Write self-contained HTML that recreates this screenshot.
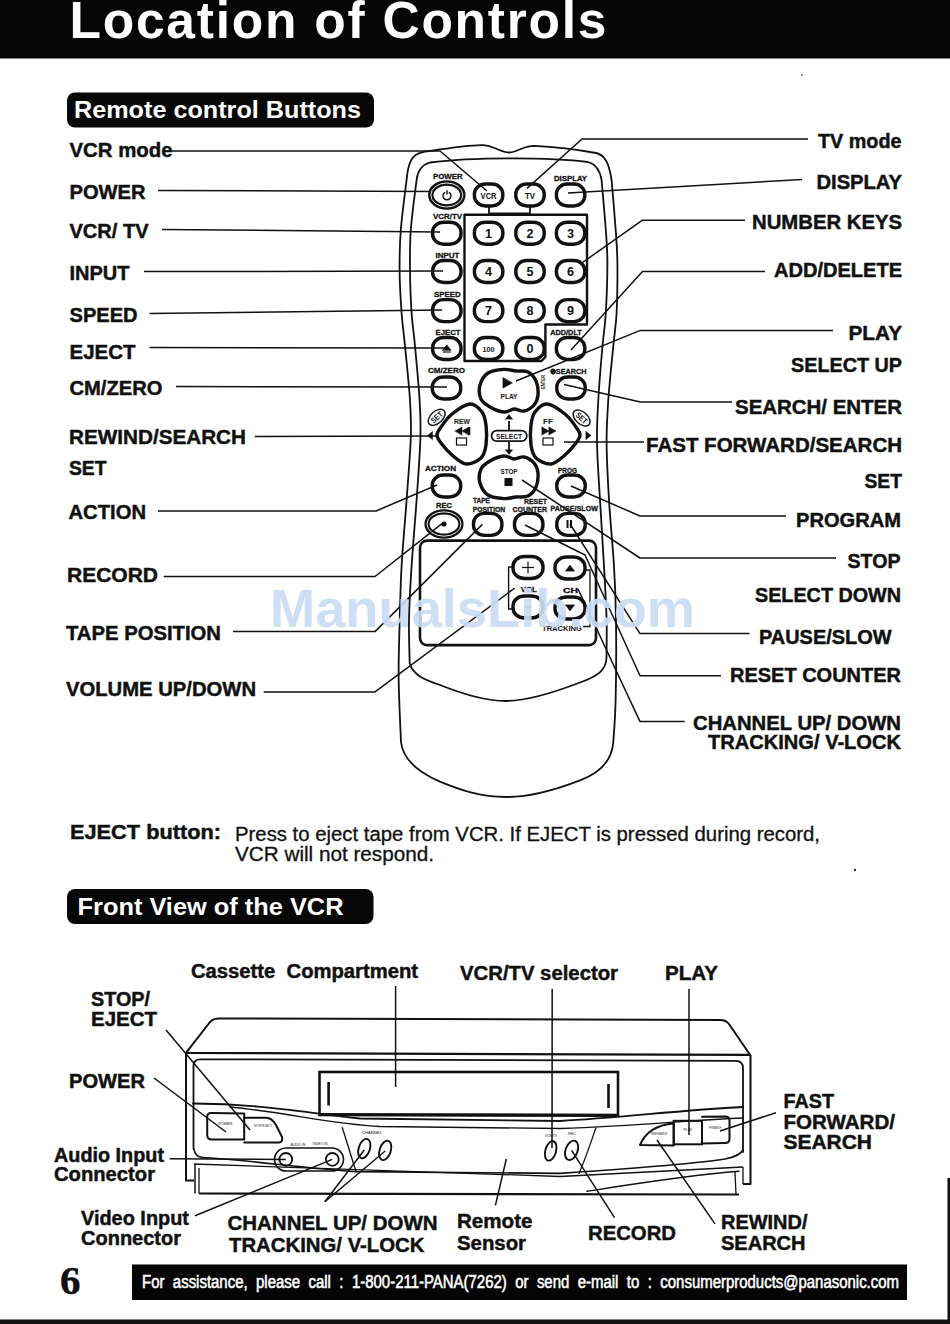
<!DOCTYPE html>
<html><head><meta charset="utf-8"><style>
html,body{margin:0;padding:0;background:#fff;}
svg{display:block;}
</style></head><body>
<svg width="950" height="1324" viewBox="0 0 950 1324">
<rect width="950" height="1324" fill="#fff"/>
<rect x="0" y="0" width="950" height="58.5" rx="0" fill="#050505" />
<text x="69.5" y="37.5" font-family="Liberation Sans" font-size="51.5" font-weight="bold" fill="#fff" textLength="537" lengthAdjust="spacing">Location of Controls</text>
<rect x="67" y="92.5" width="307" height="35" rx="8" fill="#080808" />
<text x="74" y="118" font-family="Liberation Sans" font-size="24" font-weight="bold" fill="#fff" text-anchor="start" textLength="287" lengthAdjust="spacingAndGlyphs" >Remote control Buttons</text>
<text x="69.5" y="157" font-family="Liberation Sans" font-size="20" font-weight="bold" fill="#111" text-anchor="start" textLength="103" lengthAdjust="spacingAndGlyphs"  stroke="#111" stroke-width="0.45">VCR mode</text>
<text x="69.5" y="199" font-family="Liberation Sans" font-size="20" font-weight="bold" fill="#111" text-anchor="start" textLength="76" lengthAdjust="spacingAndGlyphs"  stroke="#111" stroke-width="0.45">POWER</text>
<text x="69.5" y="238" font-family="Liberation Sans" font-size="20" font-weight="bold" fill="#111" text-anchor="start" textLength="79" lengthAdjust="spacingAndGlyphs"  stroke="#111" stroke-width="0.45">VCR/ TV</text>
<text x="69.5" y="280" font-family="Liberation Sans" font-size="20" font-weight="bold" fill="#111" text-anchor="start" textLength="60" lengthAdjust="spacingAndGlyphs"  stroke="#111" stroke-width="0.45">INPUT</text>
<text x="69.5" y="321.5" font-family="Liberation Sans" font-size="20" font-weight="bold" fill="#111" text-anchor="start" textLength="68" lengthAdjust="spacingAndGlyphs"  stroke="#111" stroke-width="0.45">SPEED</text>
<text x="69.5" y="358.5" font-family="Liberation Sans" font-size="20" font-weight="bold" fill="#111" text-anchor="start" textLength="66" lengthAdjust="spacingAndGlyphs"  stroke="#111" stroke-width="0.45">EJECT</text>
<text x="69.5" y="395" font-family="Liberation Sans" font-size="20" font-weight="bold" fill="#111" text-anchor="start" textLength="93" lengthAdjust="spacingAndGlyphs"  stroke="#111" stroke-width="0.45">CM/ZERO</text>
<text x="69" y="444" font-family="Liberation Sans" font-size="20" font-weight="bold" fill="#111" text-anchor="start" textLength="177" lengthAdjust="spacingAndGlyphs"  stroke="#111" stroke-width="0.45">REWIND/SEARCH</text>
<text x="69" y="474.5" font-family="Liberation Sans" font-size="20" font-weight="bold" fill="#111" text-anchor="start" textLength="37.5" lengthAdjust="spacingAndGlyphs"  stroke="#111" stroke-width="0.45">SET</text>
<text x="68.5" y="518.5" font-family="Liberation Sans" font-size="20" font-weight="bold" fill="#111" text-anchor="start" textLength="77.5" lengthAdjust="spacingAndGlyphs"  stroke="#111" stroke-width="0.45">ACTION</text>
<text x="67" y="581.5" font-family="Liberation Sans" font-size="20" font-weight="bold" fill="#111" text-anchor="start" textLength="91" lengthAdjust="spacingAndGlyphs"  stroke="#111" stroke-width="0.45">RECORD</text>
<text x="66" y="639.5" font-family="Liberation Sans" font-size="20" font-weight="bold" fill="#111" text-anchor="start" textLength="155" lengthAdjust="spacingAndGlyphs"  stroke="#111" stroke-width="0.45">TAPE POSITION</text>
<text x="66" y="695.5" font-family="Liberation Sans" font-size="20" font-weight="bold" fill="#111" text-anchor="start" textLength="190" lengthAdjust="spacingAndGlyphs"  stroke="#111" stroke-width="0.45">VOLUME UP/DOWN</text>
<text x="901.5" y="148" font-family="Liberation Sans" font-size="20" font-weight="bold" fill="#111" text-anchor="end" textLength="83.5" lengthAdjust="spacingAndGlyphs"  stroke="#111" stroke-width="0.45">TV mode</text>
<text x="902" y="188.5" font-family="Liberation Sans" font-size="20" font-weight="bold" fill="#111" text-anchor="end" textLength="85.5" lengthAdjust="spacingAndGlyphs"  stroke="#111" stroke-width="0.45">DISPLAY</text>
<text x="902" y="228.5" font-family="Liberation Sans" font-size="20" font-weight="bold" fill="#111" text-anchor="end" textLength="150" lengthAdjust="spacingAndGlyphs"  stroke="#111" stroke-width="0.45">NUMBER KEYS</text>
<text x="902" y="276.5" font-family="Liberation Sans" font-size="20" font-weight="bold" fill="#111" text-anchor="end" textLength="128" lengthAdjust="spacingAndGlyphs"  stroke="#111" stroke-width="0.45">ADD/DELETE</text>
<text x="902" y="340.3" font-family="Liberation Sans" font-size="20" font-weight="bold" fill="#111" text-anchor="end" textLength="53.5" lengthAdjust="spacingAndGlyphs"  stroke="#111" stroke-width="0.45">PLAY</text>
<text x="902" y="371.5" font-family="Liberation Sans" font-size="20" font-weight="bold" fill="#111" text-anchor="end" textLength="111" lengthAdjust="spacingAndGlyphs"  stroke="#111" stroke-width="0.45">SELECT UP</text>
<text x="902" y="413.5" font-family="Liberation Sans" font-size="20" font-weight="bold" fill="#111" text-anchor="end" textLength="167" lengthAdjust="spacingAndGlyphs"  stroke="#111" stroke-width="0.45">SEARCH/ ENTER</text>
<text x="902" y="452" font-family="Liberation Sans" font-size="20" font-weight="bold" fill="#111" text-anchor="end" textLength="256" lengthAdjust="spacingAndGlyphs"  stroke="#111" stroke-width="0.45">FAST FORWARD/SEARCH</text>
<text x="902" y="487.5" font-family="Liberation Sans" font-size="20" font-weight="bold" fill="#111" text-anchor="end" textLength="37.5" lengthAdjust="spacingAndGlyphs"  stroke="#111" stroke-width="0.45">SET</text>
<text x="901" y="527" font-family="Liberation Sans" font-size="20" font-weight="bold" fill="#111" text-anchor="end" textLength="105" lengthAdjust="spacingAndGlyphs"  stroke="#111" stroke-width="0.45">PROGRAM</text>
<text x="900.5" y="568" font-family="Liberation Sans" font-size="20" font-weight="bold" fill="#111" text-anchor="end" textLength="53" lengthAdjust="spacingAndGlyphs"  stroke="#111" stroke-width="0.45">STOP</text>
<text x="901" y="601.5" font-family="Liberation Sans" font-size="20" font-weight="bold" fill="#111" text-anchor="end" textLength="146" lengthAdjust="spacingAndGlyphs"  stroke="#111" stroke-width="0.45">SELECT DOWN</text>
<text x="891.5" y="643.5" font-family="Liberation Sans" font-size="20" font-weight="bold" fill="#111" text-anchor="end" textLength="132.5" lengthAdjust="spacingAndGlyphs"  stroke="#111" stroke-width="0.45">PAUSE/SLOW</text>
<text x="901" y="682" font-family="Liberation Sans" font-size="20" font-weight="bold" fill="#111" text-anchor="end" textLength="171" lengthAdjust="spacingAndGlyphs"  stroke="#111" stroke-width="0.45">RESET COUNTER</text>
<text x="901" y="729.5" font-family="Liberation Sans" font-size="20" font-weight="bold" fill="#111" text-anchor="end" textLength="208" lengthAdjust="spacingAndGlyphs"  stroke="#111" stroke-width="0.45">CHANNEL UP/ DOWN</text>
<text x="901" y="748.5" font-family="Liberation Sans" font-size="20" font-weight="bold" fill="#111" text-anchor="end" textLength="193" lengthAdjust="spacingAndGlyphs"  stroke="#111" stroke-width="0.45">TRACKING/ V-LOCK</text>
<polyline points="172,151 440,151 487,191" fill="none" stroke="#111" stroke-width="1.5" stroke-linejoin="round" />
<polyline points="158,190.5 432,191.5" fill="none" stroke="#111" stroke-width="1.5" stroke-linejoin="round" />
<polyline points="162,229.5 440,232" fill="none" stroke="#111" stroke-width="1.5" stroke-linejoin="round" />
<polyline points="144,271.6 443,271" fill="none" stroke="#111" stroke-width="1.5" stroke-linejoin="round" />
<polyline points="149.5,313.4 442,310" fill="none" stroke="#111" stroke-width="1.5" stroke-linejoin="round" />
<polyline points="149.5,347.6 446,348" fill="none" stroke="#111" stroke-width="1.5" stroke-linejoin="round" />
<polyline points="176,386.6 447,387" fill="none" stroke="#111" stroke-width="1.5" stroke-linejoin="round" />
<polyline points="254.7,436.6 437,436" fill="none" stroke="#111" stroke-width="1.5" stroke-linejoin="round" />
<polyline points="158,511 376,511 437,485" fill="none" stroke="#111" stroke-width="1.5" stroke-linejoin="round" />
<polyline points="163.7,576.5 375,576.5 442,523.7" fill="none" stroke="#111" stroke-width="1.5" stroke-linejoin="round" />
<polyline points="233,631.6 375,631.6 482.4,524.4" fill="none" stroke="#111" stroke-width="1.5" stroke-linejoin="round" />
<polyline points="263.7,691.9 375,691.9 514.8,588" fill="none" stroke="#111" stroke-width="1.5" stroke-linejoin="round" />
<polyline points="808,139 582,139 527,188.4" fill="none" stroke="#111" stroke-width="1.5" stroke-linejoin="round" />
<polyline points="802,179.5 568,193" fill="none" stroke="#111" stroke-width="1.5" stroke-linejoin="round" />
<polyline points="745,220.2 642.5,220.2 582.5,262.5" fill="none" stroke="#111" stroke-width="1.5" stroke-linejoin="round" />
<polyline points="765,271.6 642.5,271.6 571,350" fill="none" stroke="#111" stroke-width="1.5" stroke-linejoin="round" />
<polyline points="833,330.4 640.4,330.4 516,381" fill="none" stroke="#111" stroke-width="1.5" stroke-linejoin="round" />
<polyline points="732,402 640.4,402 564,384.6" fill="none" stroke="#111" stroke-width="1.5" stroke-linejoin="round" />
<polyline points="644,442 564,442" fill="none" stroke="#111" stroke-width="1.5" stroke-linejoin="round" />
<polyline points="786,516 640,516 571,486" fill="none" stroke="#111" stroke-width="1.5" stroke-linejoin="round" />
<polyline points="836,558 640,558 522,480" fill="none" stroke="#111" stroke-width="1.5" stroke-linejoin="round" />
<polyline points="749.5,633.6 640,633.6 570,524" fill="none" stroke="#111" stroke-width="1.5" stroke-linejoin="round" />
<polyline points="721,675.7 640,675.7 585,555 525,525" fill="none" stroke="#111" stroke-width="1.5" stroke-linejoin="round" />
<polyline points="684.7,721.6 640,721.6 578,589" fill="none" stroke="#111" stroke-width="1.5" stroke-linejoin="round" />
<text x="70" y="838.5" font-family="Liberation Sans" font-size="20" font-weight="bold" fill="#111" text-anchor="start" textLength="151" lengthAdjust="spacingAndGlyphs"  stroke="#111" stroke-width="0.45">EJECT button:</text>
<text x="235" y="840.5" font-family="Liberation Sans" font-size="20" font-weight="normal" fill="#111" text-anchor="start" textLength="585" lengthAdjust="spacingAndGlyphs" stroke="#111" stroke-width="0.3">Press to eject tape from VCR. If EJECT is pressed during record,</text>
<text x="235" y="860.5" font-family="Liberation Sans" font-size="20" font-weight="normal" fill="#111" text-anchor="start" textLength="199" lengthAdjust="spacingAndGlyphs" stroke="#111" stroke-width="0.3">VCR will not respond.</text>
<rect x="67" y="889" width="306.5" height="35" rx="8" fill="#080808" />
<text x="77.5" y="914.5" font-family="Liberation Sans" font-size="23" font-weight="bold" fill="#fff" text-anchor="start" textLength="266" lengthAdjust="spacingAndGlyphs" >Front View of the VCR</text>
<text x="191" y="978" font-family="Liberation Sans" font-size="19.5" font-weight="bold" fill="#111" text-anchor="start" textLength="227" lengthAdjust="spacingAndGlyphs"  stroke="#111" stroke-width="0.45">Cassette&#160; Compartment</text>
<text x="91" y="1006" font-family="Liberation Sans" font-size="19.5" font-weight="bold" fill="#111" text-anchor="start" textLength="59" lengthAdjust="spacingAndGlyphs"  stroke="#111" stroke-width="0.45">STOP/</text>
<text x="91" y="1026" font-family="Liberation Sans" font-size="19.5" font-weight="bold" fill="#111" text-anchor="start" textLength="66" lengthAdjust="spacingAndGlyphs"  stroke="#111" stroke-width="0.45">EJECT</text>
<text x="69" y="1088" font-family="Liberation Sans" font-size="19.5" font-weight="bold" fill="#111" text-anchor="start" textLength="76" lengthAdjust="spacingAndGlyphs"  stroke="#111" stroke-width="0.45">POWER</text>
<text x="54" y="1161.5" font-family="Liberation Sans" font-size="19.5" font-weight="bold" fill="#111" text-anchor="start" textLength="110" lengthAdjust="spacingAndGlyphs"  stroke="#111" stroke-width="0.45">Audio Input</text>
<text x="54" y="1181" font-family="Liberation Sans" font-size="19.5" font-weight="bold" fill="#111" text-anchor="start" textLength="101" lengthAdjust="spacingAndGlyphs"  stroke="#111" stroke-width="0.45">Connector</text>
<text x="81" y="1225" font-family="Liberation Sans" font-size="19.5" font-weight="bold" fill="#111" text-anchor="start" textLength="108" lengthAdjust="spacingAndGlyphs"  stroke="#111" stroke-width="0.45">Video Input</text>
<text x="81" y="1245" font-family="Liberation Sans" font-size="19.5" font-weight="bold" fill="#111" text-anchor="start" textLength="100" lengthAdjust="spacingAndGlyphs"  stroke="#111" stroke-width="0.45">Connector</text>
<text x="227.5" y="1229.5" font-family="Liberation Sans" font-size="20" font-weight="bold" fill="#111" text-anchor="start" textLength="210" lengthAdjust="spacingAndGlyphs"  stroke="#111" stroke-width="0.45">CHANNEL UP/ DOWN</text>
<text x="229" y="1251.5" font-family="Liberation Sans" font-size="20" font-weight="bold" fill="#111" text-anchor="start" textLength="195.5" lengthAdjust="spacingAndGlyphs"  stroke="#111" stroke-width="0.45">TRACKING/ V-LOCK</text>
<text x="457" y="1228" font-family="Liberation Sans" font-size="19.5" font-weight="bold" fill="#111" text-anchor="start" textLength="75.5" lengthAdjust="spacingAndGlyphs"  stroke="#111" stroke-width="0.45">Remote</text>
<text x="457" y="1249.5" font-family="Liberation Sans" font-size="19.5" font-weight="bold" fill="#111" text-anchor="start" textLength="69" lengthAdjust="spacingAndGlyphs"  stroke="#111" stroke-width="0.45">Sensor</text>
<text x="588" y="1239.5" font-family="Liberation Sans" font-size="20" font-weight="bold" fill="#111" text-anchor="start" textLength="88" lengthAdjust="spacingAndGlyphs"  stroke="#111" stroke-width="0.45">RECORD</text>
<text x="721" y="1229" font-family="Liberation Sans" font-size="19.5" font-weight="bold" fill="#111" text-anchor="start" textLength="86.5" lengthAdjust="spacingAndGlyphs"  stroke="#111" stroke-width="0.45">REWIND/</text>
<text x="721" y="1249.5" font-family="Liberation Sans" font-size="19.5" font-weight="bold" fill="#111" text-anchor="start" textLength="84.5" lengthAdjust="spacingAndGlyphs"  stroke="#111" stroke-width="0.45">SEARCH</text>
<text x="460" y="980.3" font-family="Liberation Sans" font-size="19.5" font-weight="bold" fill="#111" text-anchor="start" textLength="158" lengthAdjust="spacingAndGlyphs"  stroke="#111" stroke-width="0.45">VCR/TV selector</text>
<text x="665" y="980.3" font-family="Liberation Sans" font-size="19.5" font-weight="bold" fill="#111" text-anchor="start" textLength="53" lengthAdjust="spacingAndGlyphs"  stroke="#111" stroke-width="0.45">PLAY</text>
<text x="783.5" y="1108" font-family="Liberation Sans" font-size="19.5" font-weight="bold" fill="#111" text-anchor="start" textLength="50.5" lengthAdjust="spacingAndGlyphs"  stroke="#111" stroke-width="0.45">FAST</text>
<text x="783.5" y="1128.5" font-family="Liberation Sans" font-size="19.5" font-weight="bold" fill="#111" text-anchor="start" textLength="111.5" lengthAdjust="spacingAndGlyphs"  stroke="#111" stroke-width="0.45">FORWARD/</text>
<text x="783.5" y="1148.5" font-family="Liberation Sans" font-size="19.5" font-weight="bold" fill="#111" text-anchor="start" textLength="88.5" lengthAdjust="spacingAndGlyphs"  stroke="#111" stroke-width="0.45">SEARCH</text>
<text x="60" y="1293.5" font-family="Liberation Serif" font-size="41" font-weight="bold" fill="#111" text-anchor="start" textLength="20.5" lengthAdjust="spacingAndGlyphs"  stroke="#111" stroke-width="0.45">6</text>
<rect x="132" y="1264.5" width="775" height="35.5" rx="0" fill="#050505" />
<text x="142" y="1287.5" font-family="Liberation Sans" font-size="17.5" font-weight="normal" fill="#fff" text-anchor="start" textLength="757" lengthAdjust="spacingAndGlyphs" word-spacing="5" stroke="#fff" stroke-width="0.55">For assistance, please call : 1-800-211-PANA(7262) or send e-mail to : consumerproducts@panasonic.com</text>
<rect x="0" y="1319.5" width="950" height="4.5" rx="0" fill="#111" />
<rect x="947.5" y="1178" width="2.5" height="146" rx="0" fill="#111" />
<circle cx="855" cy="870" r="1.2" fill="#333"/>
<circle cx="802" cy="75" r="0.9" fill="#555"/>
<path d="M406.6,180 C408,163 412,154 422,152.3 C450,148 468,145 482,145.2 C494,145.5 500,152.3 509,152.5 C518,152.3 522,146 534,145.8 C560,147 580,150 596,153 C605,155 609,163 611.6,180 C612.3,188.3 614.7,216.2 615.7,230.0 C616.7,243.8 617.2,249.2 617.4,263.0 C617.5,276.8 617.3,299.2 616.6,313.0 C615.9,326.8 614.7,331.5 613.3,346.0 C611.9,360.5 609.4,383.8 608.3,400.0 C607.2,416.2 606.5,426.3 606.6,443.0 C606.7,459.7 607.8,479.5 609.0,500.0 C610.2,520.5 612.8,546.0 614.0,566.0 C615.2,586.0 615.7,597.5 616.0,620.0 C616.3,642.5 616.1,680.7 615.6,701.0 C615.1,721.3 613.7,735.2 613.3,742.0 C612,760 600,773 580,780.3 C555,790 530,797 506,797 C480,797 460,790 440,781.7 C420,773 403,760 401,742 C400.6,731.7 398.9,699.0 398.7,680.0 C398.4,661.0 399.0,647.0 399.5,628.0 C400.0,609.0 400.4,587.3 401.6,566.0 C402.8,544.7 405.1,521.3 406.6,500.0 C408.1,478.7 410.2,454.7 410.8,438.0 C411.4,421.3 411.0,415.3 410.0,400.0 C409.0,384.7 406.4,360.5 405.0,346.0 C403.6,331.5 402.5,325.5 401.6,313.0 C400.7,300.5 399.7,284.8 399.6,271.0 C399.5,257.2 399.6,245.2 400.8,230.0 C402.0,214.8 405.6,188.3 406.6,180.0 Z" fill="none" stroke="#111" stroke-width="1.8" stroke-linejoin="round" stroke-linecap="round" />
<path d="M409.7,663.5 C409.6,656.2 408.7,636.2 409.0,620.0 C409.3,603.8 410.3,586.0 411.6,566.0 C412.9,546.0 415.1,521.3 416.6,500.0 C418.1,478.7 419.9,454.7 420.4,438.0 C420.9,421.3 420.5,415.3 419.6,400.0 C418.7,384.7 416.3,360.5 415.0,346.0 C413.7,331.5 412.4,325.5 411.6,313.0 C410.8,300.5 410.1,284.8 410.0,271.0 C409.9,257.2 409.7,245.2 410.8,230.0 C411.9,214.8 415.6,188.3 416.6,180.0 Q418,166 430,162.5 C470,157 550,157 588,162 Q599,165 601.6,180 C602.3,188.3 604.8,216.2 605.8,230.0 C606.8,243.8 607.4,249.2 607.4,263.0 C607.4,276.8 606.6,299.2 605.8,313.0 C605.0,326.8 603.8,331.5 602.5,346.0 C601.2,360.5 599.2,383.8 598.3,400.0 C597.4,416.2 596.7,426.3 597.0,443.0 C597.3,459.7 598.8,479.5 600.0,500.0 C601.2,520.5 602.9,546.0 604.0,566.0 C605.1,586.0 606.2,604.7 606.6,620.0 C607.0,635.3 606.5,651.7 606.5,658.0 C606,670 598,676 580,682.5 C550,694 525,701 506,701 C490,701 470,697 440,685 C425,680 413,675 409.7,663.5" fill="none" stroke="#111" stroke-width="1.8" stroke-linejoin="round" stroke-linecap="round" />
<path d="M464.5,214.7 L587,214.7 L587,324.5 L545.4,324.5 L545.4,357 L541.5,361 L464.5,361 Z" fill="none" stroke="#111" stroke-width="2.4" stroke-linejoin="round" stroke-linecap="round" />
<polyline points="489,207 489,214.7" fill="none" stroke="#111" stroke-width="1.8" stroke-linejoin="round" />
<polyline points="530,207 530,214.7" fill="none" stroke="#111" stroke-width="1.8" stroke-linejoin="round" />
<rect x="489" y="212.5" width="41" height="3" rx="0" fill="#111" />
<ellipse cx="446.8" cy="195" rx="16" ry="12" fill="none" stroke="#111" stroke-width="5.5" />
<ellipse cx="446.8" cy="195" rx="16" ry="12" fill="none" stroke="#fff" stroke-width="0.9" />
<rect x="474.4" y="184.0" width="28.4" height="22.0" rx="11.1" ry="9.9" fill="none" stroke="#111" stroke-width="3.4"/>
<rect x="515.8" y="184.0" width="28.4" height="22.0" rx="11.1" ry="9.9" fill="none" stroke="#111" stroke-width="3.4"/>
<rect x="556.4" y="184.0" width="28.4" height="22.0" rx="11.1" ry="9.9" fill="none" stroke="#111" stroke-width="3.4"/>
<rect x="432.6" y="222.2" width="28.4" height="22.0" rx="11.1" ry="9.9" fill="none" stroke="#111" stroke-width="3.4"/>
<rect x="432.6" y="260.5" width="28.4" height="22.0" rx="11.1" ry="9.9" fill="none" stroke="#111" stroke-width="3.4"/>
<rect x="432.6" y="299.6" width="28.4" height="22.0" rx="11.1" ry="9.9" fill="none" stroke="#111" stroke-width="3.4"/>
<rect x="432.6" y="337.5" width="28.4" height="22.0" rx="11.1" ry="9.9" fill="none" stroke="#111" stroke-width="3.4"/>
<rect x="474.4" y="222.2" width="28.4" height="22.0" rx="11.1" ry="9.9" fill="none" stroke="#111" stroke-width="3.4"/>
<rect x="515.8" y="222.2" width="28.4" height="22.0" rx="11.1" ry="9.9" fill="none" stroke="#111" stroke-width="3.4"/>
<rect x="556.4" y="222.2" width="28.4" height="22.0" rx="11.1" ry="9.9" fill="none" stroke="#111" stroke-width="3.4"/>
<rect x="474.4" y="260.5" width="28.4" height="22.0" rx="11.1" ry="9.9" fill="none" stroke="#111" stroke-width="3.4"/>
<rect x="515.8" y="260.5" width="28.4" height="22.0" rx="11.1" ry="9.9" fill="none" stroke="#111" stroke-width="3.4"/>
<rect x="556.4" y="260.5" width="28.4" height="22.0" rx="11.1" ry="9.9" fill="none" stroke="#111" stroke-width="3.4"/>
<rect x="474.4" y="299.6" width="28.4" height="22.0" rx="11.1" ry="9.9" fill="none" stroke="#111" stroke-width="3.4"/>
<rect x="515.8" y="299.6" width="28.4" height="22.0" rx="11.1" ry="9.9" fill="none" stroke="#111" stroke-width="3.4"/>
<rect x="556.4" y="299.6" width="28.4" height="22.0" rx="11.1" ry="9.9" fill="none" stroke="#111" stroke-width="3.4"/>
<rect x="474.4" y="337.5" width="28.4" height="22.0" rx="11.1" ry="9.9" fill="none" stroke="#111" stroke-width="3.4"/>
<rect x="515.8" y="337.5" width="28.4" height="22.0" rx="11.1" ry="9.9" fill="none" stroke="#111" stroke-width="3.4"/>
<rect x="556.4" y="337.5" width="28.4" height="22.0" rx="11.1" ry="9.9" fill="none" stroke="#111" stroke-width="3.4"/>
<text x="447.8" y="178.5" font-family="Liberation Sans" font-size="8" font-weight="bold" fill="#111" text-anchor="middle" textLength="29.6" lengthAdjust="spacingAndGlyphs" stroke="#111" stroke-width="0.3">POWER</text>
<text x="570.5" y="180.5" font-family="Liberation Sans" font-size="8" font-weight="bold" fill="#111" text-anchor="middle" textLength="33" lengthAdjust="spacingAndGlyphs" stroke="#111" stroke-width="0.3">DISPLAY</text>
<text x="447.5" y="218.5" font-family="Liberation Sans" font-size="8" font-weight="bold" fill="#111" text-anchor="middle" textLength="29" lengthAdjust="spacingAndGlyphs" stroke="#111" stroke-width="0.3">VCR/TV</text>
<text x="447.5" y="257.5" font-family="Liberation Sans" font-size="8" font-weight="bold" fill="#111" text-anchor="middle" textLength="24" lengthAdjust="spacingAndGlyphs" stroke="#111" stroke-width="0.3">INPUT</text>
<text x="447.3" y="296.5" font-family="Liberation Sans" font-size="8" font-weight="bold" fill="#111" text-anchor="middle" textLength="26.5" lengthAdjust="spacingAndGlyphs" stroke="#111" stroke-width="0.3">SPEED</text>
<text x="448" y="334.5" font-family="Liberation Sans" font-size="8" font-weight="bold" fill="#111" text-anchor="middle" textLength="25" lengthAdjust="spacingAndGlyphs" stroke="#111" stroke-width="0.3">EJECT</text>
<text x="566" y="334.5" font-family="Liberation Sans" font-size="8" font-weight="bold" fill="#111" text-anchor="middle" textLength="31.6" lengthAdjust="spacingAndGlyphs" stroke="#111" stroke-width="0.3">ADD/DLT</text>
<path d="M444.6,192.6 A4,4 0 1 0 449.4,192.6" fill="none" stroke="#111" stroke-width="1.4" stroke-linejoin="round" stroke-linecap="round" />
<polyline points="447,190.2 447,194.5" fill="none" stroke="#111" stroke-width="1.4" stroke-linejoin="round" />
<text x="488.6" y="198.5" font-family="Liberation Sans" font-size="9" font-weight="bold" fill="#111" text-anchor="middle" textLength="16" lengthAdjust="spacingAndGlyphs" >VCR</text>
<text x="530" y="198.5" font-family="Liberation Sans" font-size="9" font-weight="bold" fill="#111" text-anchor="middle" textLength="10" lengthAdjust="spacingAndGlyphs" >TV</text>
<text x="488.6" y="238.0" font-family="Liberation Sans" font-size="13" font-weight="bold" fill="#111" text-anchor="middle" textLength="7" lengthAdjust="spacingAndGlyphs" >1</text>
<text x="530" y="238.0" font-family="Liberation Sans" font-size="13" font-weight="bold" fill="#111" text-anchor="middle" textLength="7" lengthAdjust="spacingAndGlyphs" >2</text>
<text x="570.6" y="238.0" font-family="Liberation Sans" font-size="13" font-weight="bold" fill="#111" text-anchor="middle" textLength="7" lengthAdjust="spacingAndGlyphs" >3</text>
<text x="488.6" y="276.3" font-family="Liberation Sans" font-size="13" font-weight="bold" fill="#111" text-anchor="middle" textLength="7" lengthAdjust="spacingAndGlyphs" >4</text>
<text x="530" y="276.3" font-family="Liberation Sans" font-size="13" font-weight="bold" fill="#111" text-anchor="middle" textLength="7" lengthAdjust="spacingAndGlyphs" >5</text>
<text x="570.6" y="276.3" font-family="Liberation Sans" font-size="13" font-weight="bold" fill="#111" text-anchor="middle" textLength="7" lengthAdjust="spacingAndGlyphs" >6</text>
<text x="488.6" y="315.40000000000003" font-family="Liberation Sans" font-size="13" font-weight="bold" fill="#111" text-anchor="middle" textLength="7" lengthAdjust="spacingAndGlyphs" >7</text>
<text x="530" y="315.40000000000003" font-family="Liberation Sans" font-size="13" font-weight="bold" fill="#111" text-anchor="middle" textLength="7" lengthAdjust="spacingAndGlyphs" >8</text>
<text x="570.6" y="315.40000000000003" font-family="Liberation Sans" font-size="13" font-weight="bold" fill="#111" text-anchor="middle" textLength="7" lengthAdjust="spacingAndGlyphs" >9</text>
<text x="530" y="353.3" font-family="Liberation Sans" font-size="13" font-weight="bold" fill="#111" text-anchor="middle" textLength="7" lengthAdjust="spacingAndGlyphs" >0</text>
<text x="488.6" y="351.5" font-family="Liberation Sans" font-size="8" font-weight="bold" fill="#111" text-anchor="middle" textLength="12" lengthAdjust="spacingAndGlyphs" >100</text>
<path d="M442.8,350.0 L446.8,345.0 L450.8,350.0 Z" fill="#111" stroke="#111" stroke-width="0.8" stroke-linejoin="round" stroke-linecap="round" />
<polyline points="442.8,352.0 450.8,352.0" fill="none" stroke="#111" stroke-width="1.2" stroke-linejoin="round" />
<rect x="432.3" y="377.0" width="28.4" height="22.0" rx="11.1" ry="9.9" fill="none" stroke="#111" stroke-width="3.4"/>
<rect x="556.8" y="377.0" width="28.4" height="22.0" rx="11.1" ry="9.9" fill="none" stroke="#111" stroke-width="3.4"/>
<rect x="432.3" y="475.0" width="28.4" height="22.0" rx="11.1" ry="9.9" fill="none" stroke="#111" stroke-width="3.4"/>
<rect x="556.8" y="475.0" width="28.4" height="22.0" rx="11.1" ry="9.9" fill="none" stroke="#111" stroke-width="3.4"/>
<text x="446.5" y="373" font-family="Liberation Sans" font-size="8" font-weight="bold" fill="#111" text-anchor="middle" textLength="37" lengthAdjust="spacingAndGlyphs" stroke="#111" stroke-width="0.3">CM/ZERO</text>
<text x="568" y="374" font-family="Liberation Sans" font-size="8" font-weight="bold" fill="#111" text-anchor="middle" textLength="37" lengthAdjust="spacingAndGlyphs" stroke="#111" stroke-width="0.3">⊕SEARCH</text>
<text x="545" y="382" font-family="Liberation Sans" font-size="6" font-weight="bold" fill="#111" text-anchor="middle" textLength="14" lengthAdjust="spacingAndGlyphs" transform="rotate(-90 545 382)">ENTER</text>
<text x="440.5" y="471" font-family="Liberation Sans" font-size="8" font-weight="bold" fill="#111" text-anchor="middle" textLength="31" lengthAdjust="spacingAndGlyphs" stroke="#111" stroke-width="0.3">ACTION</text>
<text x="567.5" y="473" font-family="Liberation Sans" font-size="8" font-weight="bold" fill="#111" text-anchor="middle" textLength="19" lengthAdjust="spacingAndGlyphs" stroke="#111" stroke-width="0.3">PROG</text>
<path d="M480.0,385.0 C481.2,380.7 484.0,375.6 488.0,373.0 C492.0,370.4 499.3,369.7 504.0,369.4 C508.7,369.1 512.0,370.6 516.0,371.0 C520.0,371.4 524.7,370.3 528.0,372.0 C531.3,373.7 534.3,377.2 536.0,381.0 C537.7,384.8 538.3,391.0 538.0,395.0 C537.7,399.0 536.3,402.3 534.0,405.0 C531.7,407.7 527.3,410.3 524.0,411.0 C520.7,411.7 517.3,408.8 514.0,409.0 C510.7,409.2 508.0,412.3 504.0,412.0 C500.0,411.7 493.8,409.2 490.0,407.0 C486.2,404.8 482.7,402.7 481.0,399.0 C479.3,395.3 478.8,389.3 480.0,385.0 Z" fill="none" stroke="#111" stroke-width="3.4" stroke-linejoin="round" stroke-linecap="round" />
<path d="M480.0,483.0 C481.2,487.3 484.0,492.4 488.0,495.0 C492.0,497.6 499.3,498.3 504.0,498.6 C508.7,498.9 512.0,497.4 516.0,497.0 C520.0,496.6 524.7,497.7 528.0,496.0 C531.3,494.3 534.3,490.8 536.0,487.0 C537.7,483.2 538.3,477.0 538.0,473.0 C537.7,469.0 536.3,465.7 534.0,463.0 C531.7,460.3 527.3,457.7 524.0,457.0 C520.7,456.3 517.3,459.2 514.0,459.0 C510.7,458.8 508.0,455.7 504.0,456.0 C500.0,456.3 493.8,458.8 490.0,461.0 C486.2,463.2 482.7,465.3 481.0,469.0 C479.3,472.7 478.8,478.7 480.0,483.0 Z" fill="none" stroke="#111" stroke-width="3.4" stroke-linejoin="round" stroke-linecap="round" />
<path d="M470.0,404.0 C475.0,403.7 479.3,408.5 482.0,412.0 C484.7,415.5 485.3,419.5 486.0,425.0 C486.7,430.5 486.8,439.5 486.0,445.0 C485.2,450.5 484.3,454.8 481.0,458.0 C477.7,461.2 470.8,464.5 466.0,464.0 C461.2,463.5 456.2,458.5 452.0,455.0 C447.8,451.5 443.5,446.3 441.0,443.0 C438.5,439.7 437.0,437.7 437.0,435.0 C437.0,432.3 438.5,430.5 441.0,427.0 C443.5,423.5 447.2,417.8 452.0,414.0 C456.8,410.2 465.0,404.3 470.0,404.0 Z" fill="none" stroke="#111" stroke-width="3.4" stroke-linejoin="round" stroke-linecap="round" />
<path d="M547.0,404.0 C542.0,403.7 537.7,408.5 535.0,412.0 C532.3,415.5 531.7,419.5 531.0,425.0 C530.3,430.5 530.2,439.5 531.0,445.0 C531.8,450.5 532.7,454.8 536.0,458.0 C539.3,461.2 546.2,464.5 551.0,464.0 C555.8,463.5 560.8,458.5 565.0,455.0 C569.2,451.5 573.5,446.3 576.0,443.0 C578.5,439.7 580.0,437.7 580.0,435.0 C580.0,432.3 578.5,430.5 576.0,427.0 C573.5,423.5 569.8,417.8 565.0,414.0 C560.2,410.2 552.0,404.3 547.0,404.0 Z" fill="none" stroke="#111" stroke-width="3.4" stroke-linejoin="round" stroke-linecap="round" />
<path d="M503,378 L503,388 L512,383 Z" fill="#111" stroke="#111" stroke-width="0.8" stroke-linejoin="round" stroke-linecap="round" />
<text x="509" y="398.5" font-family="Liberation Sans" font-size="8" font-weight="bold" fill="#111" text-anchor="middle" textLength="17" lengthAdjust="spacingAndGlyphs" >PLAY</text>
<text x="509" y="474" font-family="Liberation Sans" font-size="8" font-weight="bold" fill="#111" text-anchor="middle" textLength="17" lengthAdjust="spacingAndGlyphs" >STOP</text>
<rect x="504.5" y="478" width="8" height="8" rx="0" fill="#111" />
<text x="462" y="423.5" font-family="Liberation Sans" font-size="8" font-weight="bold" fill="#111" text-anchor="middle" textLength="16" lengthAdjust="spacingAndGlyphs" >REW</text>
<path d="M455,431 L462,427 L462,435 Z M462,431 L469,427 L469,435 Z" fill="#111" stroke="#111" stroke-width="0.5" stroke-linejoin="round" stroke-linecap="round" />
<rect x="468.5" y="427" width="1.8" height="8" rx="0" fill="#111" />
<rect x="456.5" y="438" width="10" height="7" fill="none" stroke="#111" stroke-width="1.2"/>
<text x="548" y="423.5" font-family="Liberation Sans" font-size="8" font-weight="bold" fill="#111" text-anchor="middle" textLength="10" lengthAdjust="spacingAndGlyphs" >FF</text>
<path d="M542,427 L549,431 L542,435 Z M549,427 L556,431 L549,435 Z" fill="#111" stroke="#111" stroke-width="0.5" stroke-linejoin="round" stroke-linecap="round" />
<rect x="543" y="438" width="10" height="7" fill="none" stroke="#111" stroke-width="1.2"/>
<rect x="491.5" y="430.7" width="35.3" height="10.5" rx="5.2" fill="#fff" stroke="#111" stroke-width="1.8"/>
<text x="509" y="439" font-family="Liberation Sans" font-size="7.5" font-weight="bold" fill="#111" text-anchor="middle" textLength="26" lengthAdjust="spacingAndGlyphs" >SELECT</text>
<polyline points="509,421 509,430.5" fill="none" stroke="#111" stroke-width="1.8" stroke-linejoin="round" />
<polyline points="509,441 509,450" fill="none" stroke="#111" stroke-width="1.8" stroke-linejoin="round" />
<path d="M505.5,419 L509,414.5 L512.5,419 Z" fill="#111" stroke="#111" stroke-width="0.5" stroke-linejoin="round" stroke-linecap="round" />
<path d="M505.5,450 L509,454.5 L512.5,450 Z" fill="#111" stroke="#111" stroke-width="0.5" stroke-linejoin="round" stroke-linecap="round" />
<g transform="translate(436.7,417.3) rotate(-42)"><ellipse rx="10" ry="6" fill="#fff" stroke="#111" stroke-width="1.4"/><text x="0" y="2.8" font-family="Liberation Sans" font-size="8" font-weight="bold" text-anchor="middle" textLength="13" lengthAdjust="spacingAndGlyphs" fill="#111">SET</text></g>
<g transform="translate(581.6,418) rotate(42)"><ellipse rx="10" ry="6" fill="#fff" stroke="#111" stroke-width="1.4"/><text x="0" y="2.8" font-family="Liberation Sans" font-size="8" font-weight="bold" text-anchor="middle" textLength="13" lengthAdjust="spacingAndGlyphs" fill="#111">SET</text></g>
<path d="M427.5,435.5 L432.5,431.5 L432.5,439.5 Z" fill="#111" stroke="#111" stroke-width="0.5" stroke-linejoin="round" stroke-linecap="round" />
<path d="M586,431.5 L591,435.5 L586,439.5 Z" fill="#111" stroke="#111" stroke-width="0.5" stroke-linejoin="round" stroke-linecap="round" />
<ellipse cx="444" cy="524" rx="17" ry="12.2" fill="none" stroke="#111" stroke-width="5.2" />
<ellipse cx="444" cy="524" rx="17" ry="12.2" fill="none" stroke="#fff" stroke-width="0.9" />
<circle cx="444" cy="524" r="2.6" fill="#111"/>
<rect x="473.5" y="513.4" width="28.4" height="22.0" rx="11.1" ry="9.9" fill="none" stroke="#111" stroke-width="3.4"/>
<rect x="514.5" y="513.4" width="28.4" height="22.0" rx="11.1" ry="9.9" fill="none" stroke="#111" stroke-width="3.4"/>
<rect x="556.8" y="513.4" width="28.4" height="22.0" rx="11.1" ry="9.9" fill="none" stroke="#111" stroke-width="3.4"/>
<text x="444" y="508" font-family="Liberation Sans" font-size="8" font-weight="bold" fill="#111" text-anchor="middle" textLength="16" lengthAdjust="spacingAndGlyphs" stroke="#111" stroke-width="0.3">REC</text>
<text x="481.5" y="502.5" font-family="Liberation Sans" font-size="8" font-weight="bold" fill="#111" text-anchor="middle" textLength="17" lengthAdjust="spacingAndGlyphs" stroke="#111" stroke-width="0.3">TAPE</text>
<text x="489" y="511.5" font-family="Liberation Sans" font-size="8" font-weight="bold" fill="#111" text-anchor="middle" textLength="32.6" lengthAdjust="spacingAndGlyphs" stroke="#111" stroke-width="0.3">POSITION</text>
<text x="535.5" y="503.5" font-family="Liberation Sans" font-size="8" font-weight="bold" fill="#111" text-anchor="middle" textLength="23" lengthAdjust="spacingAndGlyphs" stroke="#111" stroke-width="0.3">RESET</text>
<text x="529.7" y="511.5" font-family="Liberation Sans" font-size="8" font-weight="bold" fill="#111" text-anchor="middle" textLength="34.5" lengthAdjust="spacingAndGlyphs" stroke="#111" stroke-width="0.3">COUNTER</text>
<text x="574.2" y="511" font-family="Liberation Sans" font-size="8" font-weight="bold" fill="#111" text-anchor="middle" textLength="47.5" lengthAdjust="spacingAndGlyphs" stroke="#111" stroke-width="0.3">PAUSE/SLOW</text>
<rect x="566.5" y="520" width="2" height="8" rx="0" fill="#111" />
<rect x="570" y="520" width="2" height="8" rx="0" fill="#111" />
<rect x="420" y="540.6" width="176" height="104.5" rx="7" fill="none" stroke="#111" stroke-width="2.6"/>
<rect x="513.0" y="556.5" width="30.0" height="22.0" rx="11.7" ry="9.9" fill="none" stroke="#111" stroke-width="3.4"/>
<rect x="555.0" y="557.0" width="30.0" height="22.0" rx="11.7" ry="9.9" fill="none" stroke="#111" stroke-width="3.4"/>
<rect x="513.0" y="596.0" width="30.0" height="22.0" rx="11.7" ry="9.9" fill="none" stroke="#111" stroke-width="3.4"/>
<rect x="555.0" y="597.0" width="30.0" height="22.0" rx="11.7" ry="9.9" fill="none" stroke="#111" stroke-width="3.4"/>
<polyline points="522,567.5 534,567.5" fill="none" stroke="#111" stroke-width="1.2" stroke-linejoin="round" />
<polyline points="528,561.5 528,573.5" fill="none" stroke="#111" stroke-width="1.2" stroke-linejoin="round" />
<path d="M565.5,571 L570,565 L574.5,571 Z" fill="#111" stroke="#111" stroke-width="0.5" stroke-linejoin="round" stroke-linecap="round" />
<path d="M565.5,605 L570,611 L574.5,605 Z" fill="#111" stroke="#111" stroke-width="0.5" stroke-linejoin="round" stroke-linecap="round" />
<polyline points="525,607 531,607" fill="none" stroke="#111" stroke-width="1.2" stroke-linejoin="round" />
<text x="528.7" y="591.6" font-family="Liberation Sans" font-size="8" font-weight="bold" fill="#111" text-anchor="middle" textLength="16" lengthAdjust="spacingAndGlyphs" stroke="#111" stroke-width="0.3">VOL</text>
<text x="570.5" y="593" font-family="Liberation Sans" font-size="8" font-weight="bold" fill="#111" text-anchor="middle" textLength="15" lengthAdjust="spacingAndGlyphs" stroke="#111" stroke-width="0.3">CH</text>
<text x="562" y="631" font-family="Liberation Sans" font-size="6.5" font-weight="bold" fill="#111" text-anchor="middle" textLength="40" lengthAdjust="spacingAndGlyphs" >TRACKING</text>
<polyline points="513,567 508.6,567 508.6,609 513,609" fill="none" stroke="#111" stroke-width="1.4" stroke-linejoin="round" />
<polyline points="585,570 590,570 590,626.5 583,626.5" fill="none" stroke="#111" stroke-width="1.3" stroke-linejoin="round" />
<path d="M186.4,1052.4 L210,1022 Q213,1018.5 219,1018.5 L720,1020 Q726,1020 729,1024 L750.5,1055.5" fill="none" stroke="#111" stroke-width="2.0" stroke-linejoin="round" stroke-linecap="round" />
<polyline points="186,1053 750.5,1054.8" fill="none" stroke="#111" stroke-width="2.2" stroke-linejoin="round" />
<polyline points="186,1053 186,1180.5 194,1180.5" fill="none" stroke="#111" stroke-width="2.0" stroke-linejoin="round" />
<polyline points="750.5,1055.5 750.5,1184 743,1184" fill="none" stroke="#111" stroke-width="2.0" stroke-linejoin="round" />
<path d="M193.5,1149 L193.5,1066 Q193.5,1059.3 200,1059.3 L736,1060.8 Q743,1061 743,1068 L743,1152" fill="none" stroke="#111" stroke-width="1.8" stroke-linejoin="round" stroke-linecap="round" />
<rect x="319.5" y="1072" width="298.5" height="43" fill="none" stroke="#111" stroke-width="2.6"/>
<polyline points="319.5,1114.5 618,1115.5" fill="none" stroke="#111" stroke-width="3.2" stroke-linejoin="round" />
<rect x="327.3" y="1082" width="2.6" height="23.5" rx="0" fill="#111" />
<rect x="607.2" y="1084" width="2.6" height="24" rx="0" fill="#111" />
<path d="M193,1103.5 C260,1104 300,1112 360,1118.5 L560,1121 C620,1118 680,1110 743,1107" fill="none" stroke="#111" stroke-width="1.8" stroke-linejoin="round" stroke-linecap="round" />
<path d="M230,1107 C290,1113 330,1124 380,1126.5 L560,1128.5 C640,1126 690,1120 743,1118" fill="none" stroke="#111" stroke-width="1.4" stroke-linejoin="round" stroke-linecap="round" />
<path d="M194,1149 Q195,1157 203,1157.5 C260,1161 300,1168 356,1171.7 L560,1173.4 C640,1168 700,1163 725,1159 Q740,1156 743,1150" fill="none" stroke="#111" stroke-width="1.7" stroke-linejoin="round" stroke-linecap="round" />
<polyline points="194,1164 560,1176.5 743,1167" fill="none" stroke="#111" stroke-width="1.3" stroke-linejoin="round" />
<path d="M587,1191.3 C640,1183 690,1175 739,1171.3" fill="none" stroke="#111" stroke-width="1.4" stroke-linejoin="round" stroke-linecap="round" />
<polyline points="199,1193.5 739,1194.5" fill="none" stroke="#111" stroke-width="2.2" stroke-linejoin="round" />
<polyline points="195,1164 195,1193.5" fill="none" stroke="#111" stroke-width="1.5" stroke-linejoin="round" />
<polyline points="199,1168 199,1193.5" fill="none" stroke="#111" stroke-width="1.3" stroke-linejoin="round" />
<polyline points="735,1172 736,1194.5" fill="none" stroke="#111" stroke-width="1.3" stroke-linejoin="round" />
<polyline points="743,1167 743,1184" fill="none" stroke="#111" stroke-width="1.3" stroke-linejoin="round" />
<path d="M342.3,1127.7 C348,1145 352,1160 356.2,1171.7" fill="none" stroke="#111" stroke-width="1.3" stroke-linejoin="round" stroke-linecap="round" />
<path d="M595.8,1128 C590,1145 585,1160 579,1173.4" fill="none" stroke="#111" stroke-width="1.3" stroke-linejoin="round" stroke-linecap="round" />
<path d="M207.2,1117 Q207.2,1113 211,1113 L244.2,1113.5 L244.2,1139.5 L212,1139.5 Q207.2,1139.5 207.2,1135 Z" fill="none" stroke="#111" stroke-width="2.0" stroke-linejoin="round" stroke-linecap="round" />
<path d="M244.2,1117.7 L266,1117.7 Q272,1118 276,1125 L282,1137 Q283,1142.4 279,1142.4 L244.2,1142.4" fill="none" stroke="#111" stroke-width="2.0" stroke-linejoin="round" stroke-linecap="round" />
<text x="225.5" y="1125" font-family="Liberation Sans" font-size="4" font-weight="normal" fill="#111" text-anchor="middle" textLength="14" lengthAdjust="spacingAndGlyphs" >POWER</text>
<text x="263" y="1127" font-family="Liberation Sans" font-size="4" font-weight="normal" fill="#111" text-anchor="middle" textLength="18" lengthAdjust="spacingAndGlyphs" >STOP/EJECT</text>
<rect x="274.5" y="1148" width="69" height="23" rx="11.5" fill="none" stroke="#111" stroke-width="1.6"/>
<circle cx="285.8" cy="1159.4" r="6.4" fill="none" stroke="#111" stroke-width="1.8"/>
<circle cx="332.3" cy="1159.4" r="6.4" fill="none" stroke="#111" stroke-width="1.8"/>
<text x="298" y="1146" font-family="Liberation Sans" font-size="3.5" font-weight="normal" fill="#111" text-anchor="middle" textLength="15" lengthAdjust="spacingAndGlyphs" >AUDIO IN</text>
<text x="320" y="1145" font-family="Liberation Sans" font-size="3.5" font-weight="normal" fill="#111" text-anchor="middle" textLength="15" lengthAdjust="spacingAndGlyphs" >VIDEO IN</text>
<ellipse cx="364.3" cy="1148.6" rx="5.6" ry="10" fill="none" stroke="#111" stroke-width="1.9" transform="rotate(18 364.3 1148.6)"/>
<ellipse cx="385.2" cy="1150.4" rx="5.6" ry="10" fill="none" stroke="#111" stroke-width="1.9" transform="rotate(18 385.2 1150.4)"/>
<text x="372" y="1134" font-family="Liberation Sans" font-size="3.5" font-weight="normal" fill="#111" text-anchor="middle" textLength="20" lengthAdjust="spacingAndGlyphs" >CHANNEL</text>
<ellipse cx="550.7" cy="1150.9" rx="5.4" ry="10" fill="none" stroke="#111" stroke-width="1.9" transform="rotate(15 550.7 1150.9)"/>
<ellipse cx="571.6" cy="1150.3" rx="6" ry="10" fill="none" stroke="#111" stroke-width="1.9" transform="rotate(20 571.6 1150.3)"/>
<text x="551" y="1137" font-family="Liberation Sans" font-size="3.5" font-weight="normal" fill="#111" text-anchor="middle" textLength="12" lengthAdjust="spacingAndGlyphs" >VCR/TV</text>
<text x="572" y="1135" font-family="Liberation Sans" font-size="3.5" font-weight="normal" fill="#111" text-anchor="middle" textLength="8" lengthAdjust="spacingAndGlyphs" >REC</text>
<path d="M640,1145 C645,1133 655,1125 673.7,1123.5 L673.7,1145.5 Z" fill="none" stroke="#111" stroke-width="2.0" stroke-linejoin="round" stroke-linecap="round" />
<rect x="673.7" y="1120.8" width="28.3" height="23.5" fill="none" stroke="#111" stroke-width="2.0"/>
<path d="M702,1116.8 L726,1116.6 Q729.5,1117 729.5,1121 L729.5,1139 Q729.5,1143 725,1143 L702,1143.5" fill="none" stroke="#111" stroke-width="2.0" stroke-linejoin="round" stroke-linecap="round" />
<text x="659" y="1135" font-family="Liberation Sans" font-size="3.5" font-weight="normal" fill="#111" text-anchor="middle" textLength="16" lengthAdjust="spacingAndGlyphs" >REW/SEARCH</text>
<text x="688" y="1131" font-family="Liberation Sans" font-size="3.5" font-weight="normal" fill="#111" text-anchor="middle" textLength="9" lengthAdjust="spacingAndGlyphs" >PLAY</text>
<text x="715" y="1129" font-family="Liberation Sans" font-size="3.5" font-weight="normal" fill="#111" text-anchor="middle" textLength="12" lengthAdjust="spacingAndGlyphs" >FF/SEARCH</text>
<polyline points="395.6,986 395.6,1087" fill="none" stroke="#111" stroke-width="1.5" stroke-linejoin="round" />
<polyline points="166,1030 250,1130" fill="none" stroke="#111" stroke-width="1.5" stroke-linejoin="round" />
<polyline points="154,1078 226,1132" fill="none" stroke="#111" stroke-width="1.5" stroke-linejoin="round" />
<polyline points="169.7,1158.7 285.8,1159.4" fill="none" stroke="#111" stroke-width="1.5" stroke-linejoin="round" />
<polyline points="195,1215.7 332.3,1159.4" fill="none" stroke="#111" stroke-width="1.5" stroke-linejoin="round" />
<polyline points="324.9,1201.8 364.3,1150" fill="none" stroke="#111" stroke-width="1.5" stroke-linejoin="round" />
<polyline points="324.9,1201.8 385.2,1151" fill="none" stroke="#111" stroke-width="1.5" stroke-linejoin="round" />
<polyline points="552.2,989 552,1148" fill="none" stroke="#111" stroke-width="1.5" stroke-linejoin="round" />
<polyline points="689,989 689,1135" fill="none" stroke="#111" stroke-width="1.5" stroke-linejoin="round" />
<polyline points="776,1112.7 720,1131" fill="none" stroke="#111" stroke-width="1.5" stroke-linejoin="round" />
<polyline points="495.4,1205.4 506.3,1159" fill="none" stroke="#111" stroke-width="1.5" stroke-linejoin="round" />
<polyline points="614.5,1217.7 571.6,1150.3" fill="none" stroke="#111" stroke-width="1.5" stroke-linejoin="round" />
<polyline points="715,1223.9 657,1140" fill="none" stroke="#111" stroke-width="1.5" stroke-linejoin="round" />
<text x="270" y="626.5" font-family="Liberation Sans" font-size="54" font-weight="bold" fill="#cadcf4" text-anchor="start" textLength="425" lengthAdjust="spacingAndGlyphs" fill-opacity="0.92">ManualsLib.com</text>
</svg></body></html>
